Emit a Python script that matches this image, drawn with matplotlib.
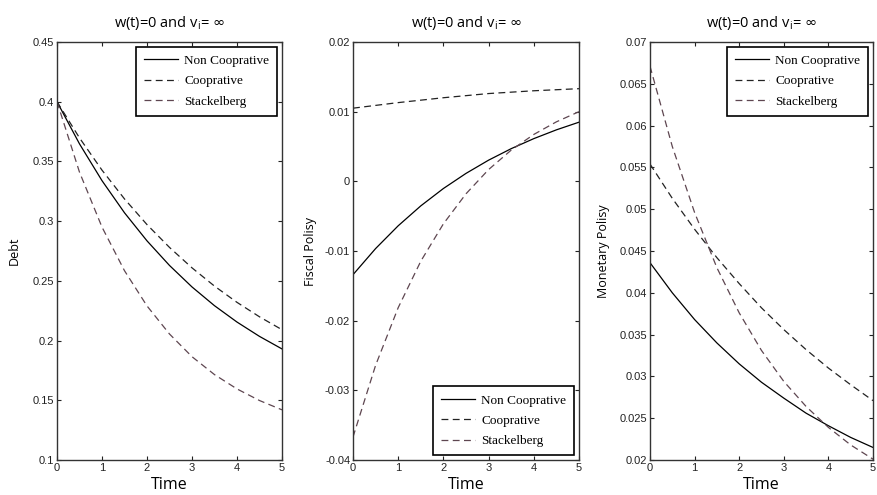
import matplotlib
matplotlib.use("Agg")
import matplotlib.pyplot as plt

# ---------------- data ----------------
time = [0, 0.5, 1, 1.5, 2, 2.5, 3, 3.5, 4, 4.5, 5]

debt_noncoop = [0.400, 0.3647, 0.3339, 0.3070, 0.2835, 0.2629, 0.2449, 0.2292, 0.2155, 0.2035, 0.1930]
debt_coop    = [0.400, 0.3697, 0.3427, 0.3186, 0.2971, 0.2780, 0.2609, 0.2456, 0.2320, 0.2199, 0.2091]
debt_stack   = [0.400, 0.3410, 0.2950, 0.2585, 0.2290, 0.2055, 0.1865, 0.1715, 0.1595, 0.1498, 0.1420]

fiscal_noncoop = [-0.0134, -0.00965, -0.00638, -0.00352, -0.00103, 0.00114, 0.00304, 0.00469, 0.00613, 0.00739, 0.00849]
fiscal_coop    = [0.0105, 0.0109, 0.0113, 0.01165, 0.0120, 0.0123, 0.0126, 0.0128, 0.0130, 0.01315, 0.0133]
fiscal_stack   = [-0.0367, -0.02641, -0.01813, -0.01146, -0.00610, -0.00179, 0.00169, 0.00448, 0.00673, 0.00854, 0.0100]

mon_noncoop = [0.0436, 0.0400, 0.0368, 0.0340, 0.0315, 0.0293, 0.0274, 0.0256, 0.0241, 0.0227, 0.0215]
mon_coop    = [0.0554, 0.0513, 0.0476, 0.0442, 0.0411, 0.0382, 0.0356, 0.0332, 0.0310, 0.0290, 0.0271]
mon_stack   = [0.0671, 0.0575, 0.0496, 0.0430, 0.0376, 0.0331, 0.0294, 0.0264, 0.0239, 0.0218, 0.0201]

legend_labels = ["Non Cooprative", "Cooprative", "Stackelberg"]

x_ticks = [0, 1, 2, 3, 4, 5]
debt_ticks = [0.1, 0.15, 0.2, 0.25, 0.3, 0.35, 0.4, 0.45]
debt_ticklabels = ["0.1", "0.15", "0.2", "0.25", "0.3", "0.35", "0.4", "0.45"]
fiscal_ticks = [-0.04, -0.03, -0.02, -0.01, 0, 0.01, 0.02]
fiscal_ticklabels = ["-0.04", "-0.03", "-0.02", "-0.01", "0", "0.01", "0.02"]
mon_ticks = [0.02, 0.025, 0.03, 0.035, 0.04, 0.045, 0.05, 0.055, 0.06, 0.065, 0.07]
mon_ticklabels = ["0.02", "0.025", "0.03", "0.035", "0.04", "0.045", "0.05", "0.055", "0.06", "0.065", "0.07"]

title_text = r"w(t)=0 and v$_\mathregular{i}$= $\infty$"
y_labels = ["Debt", "Fiscal Polisy", "Monetary Polisy"]
x_label = "Time"

# ---------------- styling ----------------
STACK_COLOR = "#5e4650"
SANS = ["Open Sans", "DejaVu Sans"]
SERIF = "Liberation Serif"
TICKFONT = "Liberation Sans"

fig = plt.figure(figsize=(8.77, 4.95), dpi=100)
positions = [
    [57 / 877, 1 - 460 / 495, 225 / 877, 418 / 495],
    [353 / 877, 1 - 460 / 495, 226 / 877, 418 / 495],
    [650 / 877, 1 - 460 / 495, 223 / 877, 418 / 495],
]

panels = [
    (debt_noncoop, debt_coop, debt_stack, (0.1, 0.45), debt_ticks, debt_ticklabels, "upper right"),
    (fiscal_noncoop, fiscal_coop, fiscal_stack, (-0.04, 0.02), fiscal_ticks, fiscal_ticklabels, "lower right"),
    (mon_noncoop, mon_coop, mon_stack, (0.02, 0.07), mon_ticks, mon_ticklabels, "upper right"),
]
ylabel_x = [-0.16, -0.16, -0.18]

for i, (nc, co, st, ylim, yt, ytl, loc) in enumerate(panels):
    ax = fig.add_axes(positions[i])
    ax.plot(time, nc, color="black", lw=0.9, ls="-", label=legend_labels[0])
    ax.plot(time, co, color="#222222", lw=0.9, ls=(0, (5.5, 3.5)), label=legend_labels[1])
    ax.plot(time, st, color=STACK_COLOR, lw=0.9, ls=(0, (5.5, 3.5)), label=legend_labels[2])
    ax.set_xlim(0, 5)
    ax.set_ylim(*ylim)
    ax.set_xticks(x_ticks)
    ax.set_xticklabels([str(v) for v in x_ticks], fontsize=8, family=TICKFONT)
    ax.set_yticks(yt)
    ax.set_yticklabels(ytl, fontsize=8, family=TICKFONT)
    ax.tick_params(direction="in", length=3, width=0.8, top=True, right=True,
                   pad=2, colors="#222222")
    for sp in ax.spines.values():
        sp.set_linewidth(1.0)
        sp.set_color("#333333")
    ax.set_title(title_text, fontsize=10.5, family=SANS, pad=11)
    ax.set_xlabel(x_label, fontsize=11.5, family=SANS, labelpad=3)
    ax.set_ylabel(y_labels[i], fontsize=9, family=SANS)
    ax.yaxis.set_label_coords(ylabel_x[i], 0.5)
    leg = ax.legend(loc=loc, prop={"family": SERIF, "size": 9.5}, frameon=True,
                    fancybox=False, edgecolor="black", framealpha=1,
                    handlelength=2.6, handletextpad=0.5, labelspacing=0.62,
                    borderpad=0.6, borderaxespad=0.35)
    leg.get_frame().set_linewidth(1.2)

fig.savefig("out.png", dpi=100)
